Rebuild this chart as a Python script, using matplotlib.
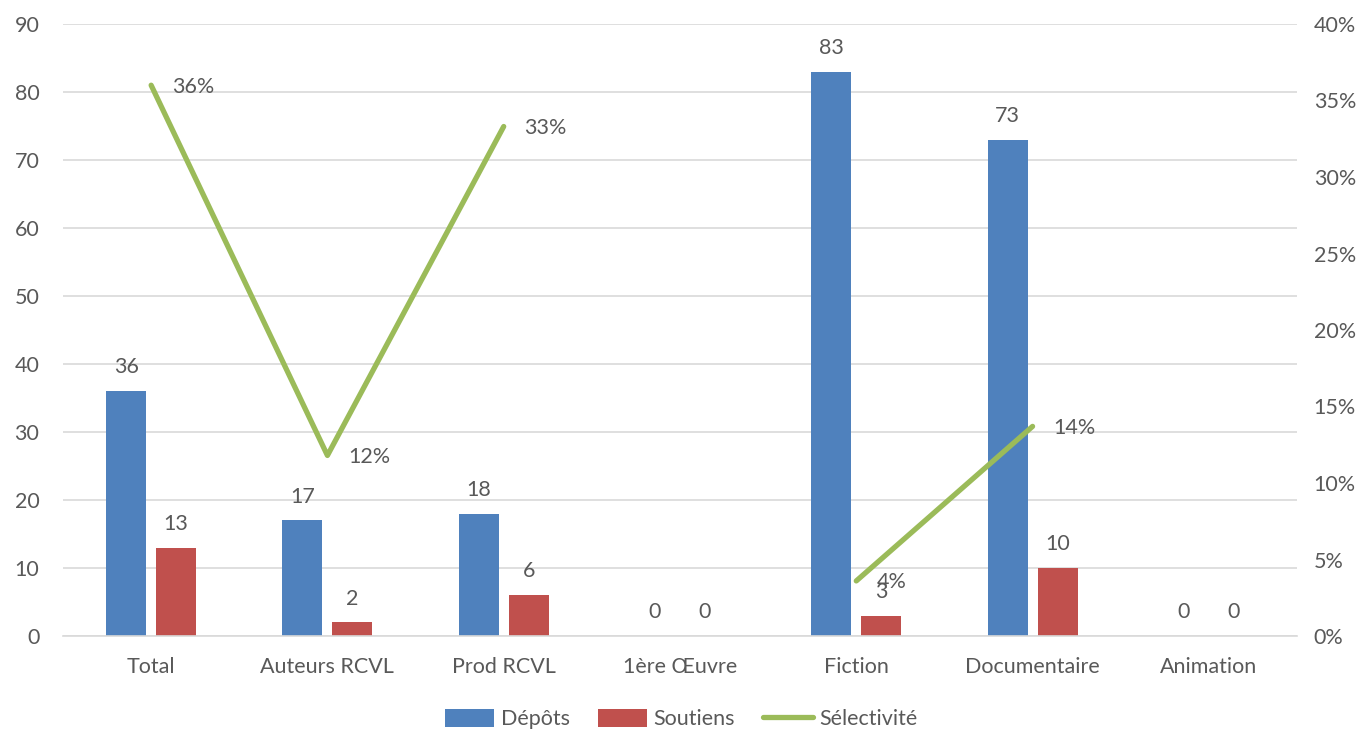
import numpy as np
import matplotlib
matplotlib.use("Agg")
import matplotlib.pyplot as plt
from matplotlib.patches import Patch
from matplotlib.lines import Line2D

categories = ["Total", "Auteurs RCVL", "Prod RCVL", "1ère Œuvre", "Fiction", "Documentaire", "Animation"]
depots = [36, 17, 18, 0, 83, 73, 0]
soutiens = [13, 2, 6, 0, 3, 10, 0]
selectivite = [0.36, 0.118, 0.333, np.nan, 0.036, 0.137, np.nan]
sel_labels = ["36%", "12%", "33%", "", "4%", "14%", ""]
left_ticks = list(range(0, 91, 10))
right_ticks = [0, 0.05, 0.10, 0.15, 0.20, 0.25, 0.30, 0.35, 0.40]

BLUE = "#4F81BD"
RED = "#C0504D"
GREEN = "#9BBB59"
TXT = "#595959"
GRID = "#D9D9D9"

plt.rcParams['font.family'] = ['Lato', 'DejaVu Sans']
FS = 15.5

fig = plt.figure(figsize=(13.62, 7.32), dpi=100)
ax = fig.add_axes([63/1362, (732-636)/732, (1297-63)/1362, (636-24)/732])
x = np.arange(len(categories))
w = 0.227
off = 0.142
b1 = ax.bar(x - off, depots, w, color=BLUE, zorder=2)
b2 = ax.bar(x + off, soutiens, w, color=RED, zorder=2)
ax.bar_label(b1, padding=10, fontsize=FS, color=TXT)
ax.bar_label(b2, padding=10, fontsize=FS, color=TXT)

ax.set_xlim(-0.5, len(categories) - 0.5)
ax.set_ylim(0, 90)
ax.set_yticks(left_ticks)
ax.set_xticks(x)
ax.set_xticklabels(categories)
ax.grid(axis='y', color=GRID, linewidth=1.2, zorder=0)
ax.set_axisbelow(True)
for s in ["top", "right", "left"]:
    ax.spines[s].set_visible(False)
ax.spines["bottom"].set_color(GRID)
ax.spines["bottom"].set_linewidth(1.2)
ax.tick_params(axis='both', length=0, labelsize=FS, colors=TXT)
ax.tick_params(axis='x', pad=15)
ax.tick_params(axis='y', pad=17)

ax2 = ax.twinx()
ax2.set_ylim(0, 0.40)
ax2.set_yticks(right_ticks)
ax2.set_yticklabels([f"{int(round(t*100))}%" for t in right_ticks])
ax2.plot(x, selectivite, color=GREEN, linewidth=3.8, solid_capstyle='round', zorder=3)
for xi, v, lab in zip(x, selectivite, sel_labels):
    if not np.isnan(v):
        ax2.annotate(lab, (xi, v), xytext=(15, -1), textcoords='offset points',
                     ha='left', va='center', fontsize=FS, color=TXT)
for s in ["top", "right", "left", "bottom"]:
    ax2.spines[s].set_visible(False)
ax2.tick_params(axis='y', length=0, labelsize=FS, colors=TXT, pad=12)

handles = [Patch(facecolor=BLUE), Patch(facecolor=RED),
           Line2D([0], [0], color=GREEN, linewidth=3.8, solid_capstyle='round')]
fig.legend(handles, ["Dépôts", "Soutiens", "Sélectivité"], loc='center',
           bbox_to_anchor=(0.5, 1 - 719/732), ncol=3, frameon=False,
           fontsize=FS, labelcolor=TXT, handlelength=2.3, handleheight=0.9,
           handletextpad=0.3, columnspacing=1.3)

fig.savefig("out.png", dpi=100)
